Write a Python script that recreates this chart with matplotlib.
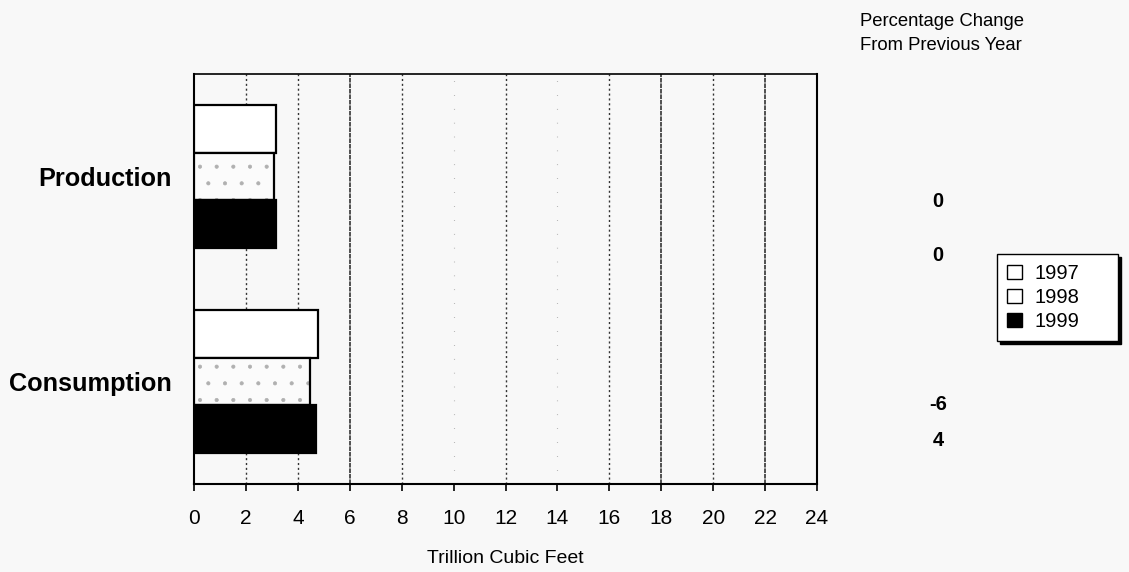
import numpy as np
import matplotlib
matplotlib.use("Agg")
import matplotlib.pyplot as plt
from matplotlib.patches import Patch

plt.rcParams['font.family'] = ['Liberation Sans', 'DejaVu Sans']
plt.rcParams['hatch.linewidth'] = 0.5

# ---- data ----
categories = ['Production', 'Consumption']
years = ['1997', '1998', '1999']
values_1997 = [3.15, 4.77]
values_1998 = [3.08, 4.47]
values_1999 = [3.17, 4.70]
pct_labels = ['0', '0', '-6', '4']
xticks = list(range(0, 25, 2))
xlabel = 'Trillion Cubic Feet'
side_title = ['Percentage Change', 'From Previous Year']

BG = '#f8f8f8'
W, H = 1129, 572
fig = plt.figure(figsize=(W / 100, H / 100), dpi=100, facecolor=BG)
ax = fig.add_axes([194 / W, 1 - 484 / H, (817 - 194) / W, (484 - 74) / H])
ax.set_facecolor(BG)

y = np.arange(len(categories))
h = 0.232

ax.barh(y - h, values_1997, height=h, color='white', edgecolor='black', linewidth=1.6, zorder=3)
# 1998: speckled fill, then black outline
ax.barh(y, values_1998, height=h, color='#fbfbfb', edgecolor='#b0b0b0', linewidth=0, hatch='.', zorder=3)
ax.barh(y, values_1998, height=h, color='none', edgecolor='black', linewidth=1.6, zorder=4)
ax.barh(y + h, values_1999, height=h, color='black', edgecolor='black', linewidth=1.6, zorder=3)

ax.set_xlim(0, 24)
ax.set_ylim(-0.5, 1.5)
ax.invert_yaxis()

ax.set_xticks(xticks)
ax.set_xticklabels([str(t) for t in xticks], fontsize=15)
ax.tick_params(axis='x', direction='out', length=5, width=1.2, pad=13, colors='black')
ax.set_yticks(y)
ax.set_yticklabels(categories, fontsize=18.2, fontweight='bold')
ax.tick_params(axis='y', length=0, pad=16)

ax.set_xlabel(xlabel, fontsize=14, labelpad=16)

for s in ax.spines.values():
    s.set_linewidth(1.5)
    s.set_color('black')
ax.spines['top'].set_linewidth(1.2)

# vertical gridlines
ax.grid(axis='x', zorder=1)
strong = {6, 18, 22}
faint = {10, 14}
for t, gl in zip(xticks, ax.get_xgridlines()):
    if t in (0, 24):
        gl.set_visible(False)
    elif t in strong:
        gl.set_color('#222222'); gl.set_linestyle((0, (3, 0.6))); gl.set_linewidth(1.1)
    elif t in faint:
        gl.set_color('#888888'); gl.set_linestyle((0, (0.5, 12))); gl.set_linewidth(0.8)
    else:
        gl.set_color('#333333'); gl.set_linestyle((0, (1.5, 2))); gl.set_linewidth(1.0)

# side title
fig.text(860 / W, 1 - 22 / H, side_title[0], fontsize=13.3, ha='left', va='center')
fig.text(860 / W, 1 - 45 / H, side_title[1], fontsize=13.3, ha='left', va='center')

# percentage change labels
pct_y = [201, 256, 404, 441]
for lab, py in zip(pct_labels, pct_y):
    fig.text(938 / W, 1 - py / H, lab, fontsize=14.5, fontweight='bold', ha='center', va='center')

# legend
handles = [Patch(facecolor='white', edgecolor='black', linewidth=1.0),
           Patch(facecolor='white', edgecolor='black', linewidth=1.0),
           Patch(facecolor='black', edgecolor='black', linewidth=1.0)]
leg = fig.legend(handles, years, loc='upper left', mode='expand',
                 bbox_to_anchor=(997 / W, (H - 342) / H, 121 / W, 88 / H),
                 bbox_transform=fig.transFigure,
                 fontsize=14.5, frameon=True, fancybox=False, shadow={'color': 'black', 'alpha': 1},
                 handlelength=0.75, handleheight=0.75, handletextpad=0.6,
                 labelspacing=0.25, borderpad=0.5, borderaxespad=0)
leg.get_frame().set_edgecolor('black')
leg.get_frame().set_linewidth(1.0)
leg.get_frame().set_facecolor('white')

fig.savefig('out.png', dpi=100, facecolor=BG)
